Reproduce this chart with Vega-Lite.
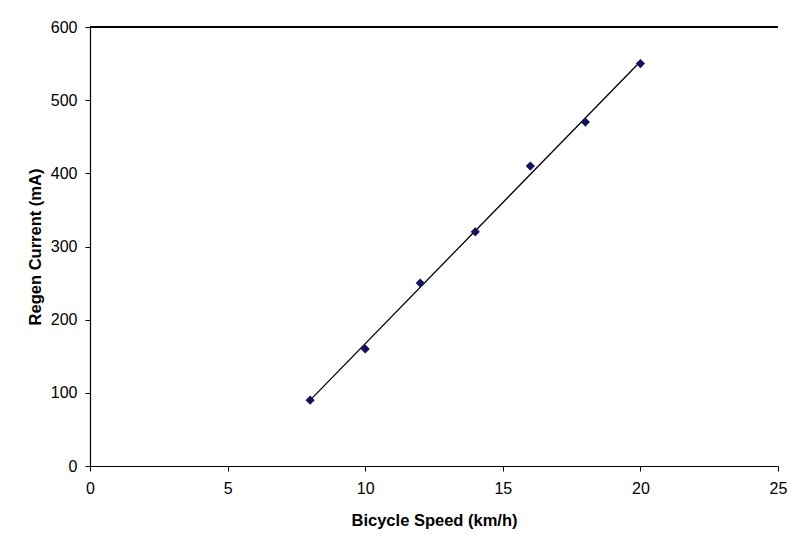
{
  "$schema": "https://vega.github.io/schema/vega-lite/v6.json",
  "width": 688,
  "height": 439,
  "autosize": {"type": "none"},
  "padding": {"left": 90, "top": 27, "right": 22, "bottom": 81},
  "background": "white",
  "config": {
    "font": "Liberation Sans",
    "view": {"stroke": null},
    "axis": {
      "grid": false,
      "domainColor": "black",
      "tickColor": "black",
      "labelColor": "black",
      "titleColor": "black",
      "labelFont": "Liberation Sans",
      "titleFont": "Liberation Sans",
      "labelFontSize": 16,
      "titleFontSize": 16.5,
      "titleFontWeight": "bold",
      "tickSize": 5,
      "domainWidth": 1.2,
      "tickWidth": 1
    }
  },
  "data": {
    "values": [
      {"speed": 8, "current": 90},
      {"speed": 10, "current": 160},
      {"speed": 12, "current": 250},
      {"speed": 14, "current": 320},
      {"speed": 16, "current": 410},
      {"speed": 18, "current": 470},
      {"speed": 20, "current": 550}
    ]
  },
  "layer": [
    {
      "mark": {"type": "rule", "color": "black", "strokeWidth": 1},
      "encoding": {
        "y": {"datum": 600, "type": "quantitative", "scale": {"domain": [0, 600]}}
      }
    },
    {
      "transform": [{"regression": "current", "on": "speed", "method": "linear"}],
      "mark": {"type": "line", "color": "black", "strokeWidth": 1.3},
      "encoding": {
        "x": {"field": "speed", "type": "quantitative"},
        "y": {"field": "current", "type": "quantitative"}
      }
    },
    {
      "mark": {"type": "point", "shape": "diamond", "filled": true, "color": "#12125e", "size": 85, "opacity": 1},
      "encoding": {
        "x": {
          "field": "speed",
          "type": "quantitative",
          "title": "Bicycle Speed (km/h)",
          "scale": {"domain": [0, 25], "nice": false, "zero": true},
          "axis": {"values": [0, 5, 10, 15, 20, 25], "labelPadding": 9, "titlePadding": 16, "labelFlush": false}
        },
        "y": {
          "field": "current",
          "type": "quantitative",
          "title": "Regen Current (mA)",
          "scale": {"domain": [0, 600], "nice": false},
          "axis": {"values": [0, 100, 200, 300, 400, 500, 600], "labelPadding": 8, "titlePadding": 7, "labelFlush": false}
        }
      }
    }
  ]
}
